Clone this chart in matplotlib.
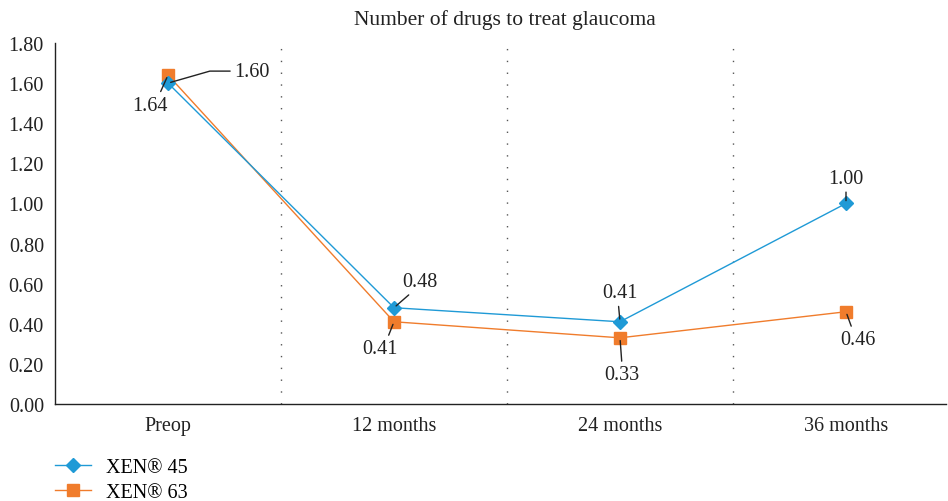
import matplotlib
matplotlib.use('Agg')
import matplotlib.pyplot as plt
import numpy as np

categories = ['Preop', '12 months', '24 months', '36 months']
xen45 = [1.60, 0.48, 0.41, 1.00]
xen63 = [1.64, 0.41, 0.33, 0.46]
yticks = [0.0, 0.2, 0.4, 0.6, 0.8, 1.0, 1.2, 1.4, 1.6, 1.8]

blue = '#1f9ad6'
orange = '#f07c2c'

plt.rcParams['font.family'] = ['Liberation Serif', 'DejaVu Serif']

W, H = 948, 502
fig = plt.figure(figsize=(W / 100, H / 100), dpi=100)
# axes in pixel coords: left 55, right 946, top 44, bottom 405
ax = fig.add_axes([55 / W, 1 - 405 / H, (946 - 55) / W, (405 - 44) / H])

x = np.arange(len(categories))
l1, = ax.plot(x, xen45, color=blue, lw=1.0, marker='D', ms=7, label='XEN® 45', zorder=3)
l2, = ax.plot(x, xen63, color=orange, lw=1.0, marker='s', ms=8.5, label='XEN® 63', zorder=2)

for xv in [0.5, 1.5, 2.5]:
    ax.axvline(xv, color='#555555', lw=1.0, ls=(0, (1, 7.5)), zorder=1)

ax.set_xlim(-0.5, (946 - 55) / 226 - 0.5)
ax.set_ylim(0, 1.8)
ax.set_yticks(yticks)
ax.set_yticklabels(['%.2f' % v for v in yticks])
ax.set_xticks(x)
ax.set_xticklabels(categories)
ax.tick_params(length=0, labelsize=14.5, colors='#222222', pad=8)
ax.tick_params(axis='x', pad=9)
for s in ['top', 'right']:
    ax.spines[s].set_visible(False)
for s in ['left', 'bottom']:
    ax.spines[s].set_color('#222222')
    ax.spines[s].set_linewidth(1.0)

fig.text(505 / W, 1 - 20 / H, 'Number of drugs to treat glaucoma', ha='center', va='center',
         fontsize=15.5, color='#222222')

# data labels with leader lines (offsets in pixels)
labels = [
    (0, xen45[0], (84, 12), (0, 0.5), 'angle,angleA=0,angleB=16,rad=0'),
    (0, xen63[0], (-18, -30), (0.75, 1), 'arc3'),
    (1, xen45[1], (26, 26), (0.3, 0), 'arc3'),
    (1, xen63[1], (-14, -27), (0.7, 1), 'arc3'),
    (2, xen45[2], (0, 29), (0.45, 0), 'arc3'),
    (2, xen63[2], (2, -37), (0.5, 1), 'arc3'),
    (3, xen45[3], (0, 25), (0.5, 0), 'arc3'),
    (3, xen63[3], (12, -28), (0.35, 1), 'arc3'),
]
for xi, yv, off, rp, cs in labels:
    ax.annotate('%.2f' % yv, xy=(xi, yv), xytext=off, textcoords='offset pixels',
                ha='center', va='center', fontsize=14.5, color='#222222',
                arrowprops=dict(arrowstyle='-', color='#222222', lw=1.0,
                                relpos=rp, shrinkA=1, shrinkB=2,
                                connectionstyle=cs), zorder=4)

fig.legend(handles=[l1, l2], loc='upper left', bbox_to_anchor=(47 / W, 1 - 451 / H),
           frameon=False, fontsize=14.5, handlelength=1.8, handletextpad=0.75,
           labelspacing=0.3, borderaxespad=0)

fig.savefig('out.png', dpi=100)
